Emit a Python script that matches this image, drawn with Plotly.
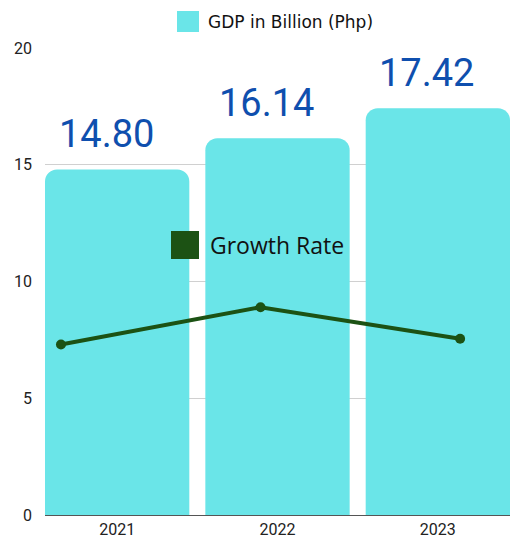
import plotly.graph_objects as go

years = ["2021", "2022", "2023"]
gdp = [14.80, 16.14, 17.42]
gdp_labels = ["14.80", "16.14", "17.42"]
growth = [7.3, 8.9, 7.55]
y_ticks = [0, 5, 10, 15, 20]

L, T, W, H = 45, 48, 510, 543
PW, PH = W - L, 515 - T

def fx(px):
    return (px - L) / PW

def fy(py):
    return (515 - py) / PH

fig = go.Figure()
fig.add_trace(go.Bar(
    x=years, y=gdp, name="GDP in Billion (Php)",
    marker=dict(color="#6ae5e8", cornerradius=12, line=dict(width=0)),
    showlegend=False, hoverinfo="skip",
))
fig.add_trace(go.Scatter(
    x=list(range(len(years))), y=growth, name="Growth Rate", xaxis="x2",
    mode="lines+markers",
    line=dict(color="#1c5214", width=4),
    marker=dict(color="#1c5214", size=10),
    showlegend=False,
))

for i, (v, lab) in enumerate(zip(gdp, gdp_labels)):
    fig.add_annotation(
        x=i, y=v, text=lab, showarrow=False, xanchor="center", yanchor="bottom",
        xshift=-11, yshift=11,
        font=dict(family="Roboto", size=38, color="#0f4fae"),
    )

# legend entries
fig.add_shape(type="rect", xref="paper", yref="paper",
              x0=fx(177), x1=fx(199), y0=fy(32), y1=fy(11),
              fillcolor="#6ae5e8", line=dict(width=0), layer="above")
fig.add_annotation(xref="paper", yref="paper", x=fx(206), y=fy(21.5),
                   text="GDP in Billion (Php)", showarrow=False,
                   xanchor="left", yanchor="middle",
                   font=dict(family="DejaVu Sans", size=17, color="#111111"))
fig.add_shape(type="rect", xref="paper", yref="paper",
              x0=fx(171), x1=fx(199), y0=fy(259), y1=fy(231),
              fillcolor="#1c5214", line=dict(width=0), layer="above")
fig.add_annotation(xref="paper", yref="paper", x=fx(208), y=fy(245),
                   text="Growth Rate", showarrow=False,
                   xanchor="left", yanchor="middle",
                   font=dict(family="Open Sans", size=23, color="#111111"))

fig.update_layout(
    width=W, height=H,
    margin=dict(l=L, r=0, t=T, b=H - 515),
    paper_bgcolor="white", plot_bgcolor="white",
    bargap=0.1,
    xaxis=dict(type="category", range=[-0.45, 2.45], showgrid=False, showline=True,
               linecolor="#555555", linewidth=1, ticks="",
               tickfont=dict(family="Roboto", size=16, color="#222222"),
               fixedrange=True),
    xaxis2=dict(overlaying="x", range=[-0.080, 2.250], visible=False),
    yaxis=dict(range=[0, 20], tickvals=y_ticks, showgrid=True,
               gridcolor="#d0d0d0", gridwidth=1, zeroline=False,
               ticks="", ticklabelstandoff=12,
               tickfont=dict(family="Roboto", size=16, color="#222222")),
    showlegend=False,
)

fig.write_html("out.html", config={"displayModeBar": False},
               post_script="document.body.style.margin='0';")
